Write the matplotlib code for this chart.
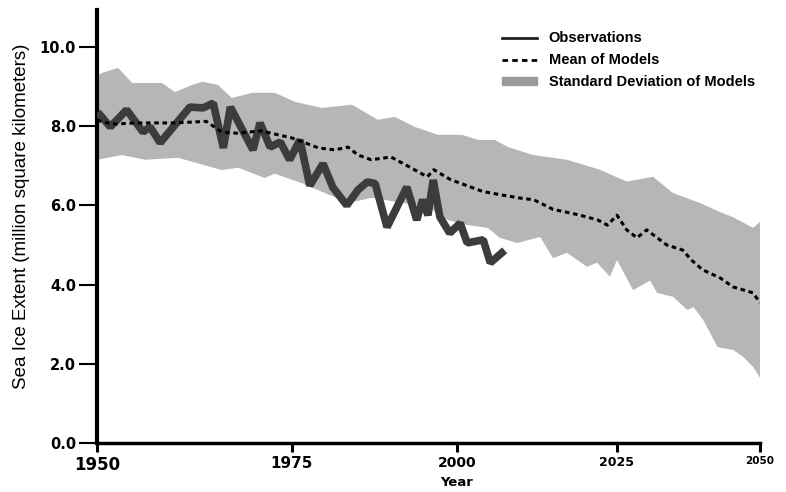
import numpy as np
import matplotlib.pyplot as plt
from matplotlib.lines import Line2D
from matplotlib.patches import Patch

obs_years = [1950.4, 1951.7, 1953.8, 1955.9, 1956.8, 1958.1, 1961.9, 1963.6, 1964.9,
             1966.2, 1967.1, 1970.0, 1970.9, 1972.2, 1973.5, 1974.7, 1976.2, 1977.7,
             1979.7, 1981.2, 1983.3, 1985.0, 1986.4, 1987.6, 1989.4, 1992.4, 1993.9,
             1994.8, 1995.6, 1996.4, 1997.4, 1998.9, 2000.5, 2001.6, 2004.1, 2005.2, 2007.0]
obs_vals = [8.28, 7.98, 8.41, 7.85, 7.98, 7.58, 8.48, 8.46, 8.58,
            7.45, 8.48, 7.40, 8.08, 7.47, 7.60, 7.15, 7.65, 6.50,
            7.05, 6.45, 6.00, 6.39, 6.59, 6.55, 5.45, 6.46, 5.63,
            6.14, 5.75, 6.64, 5.71, 5.30, 5.55, 5.05, 5.13, 4.55, 4.80]

# mean of models
mean_years = [1950, 1952, 1955, 1960, 1964, 1966, 1968, 1971, 1975, 1979, 1981.5, 1983.5,
              1985, 1987, 1990, 1993, 1995.5, 1996.5, 1999, 2001.5, 2004, 2007, 2010,
              2012, 2015, 2019, 2022, 2023.5, 2025, 2026.7, 2028.5, 2030.2, 2033.7,
              2036.5, 2038, 2040, 2043, 2045.3, 2048.8, 2050]
mean_vals = [8.15, 8.05, 8.08, 8.08, 8.12, 7.85, 7.82, 7.88, 7.70, 7.45, 7.40, 7.47,
             7.27, 7.15, 7.22, 6.95, 6.72, 6.90, 6.65, 6.50, 6.35, 6.26, 6.18,
             6.14, 5.90, 5.76, 5.63, 5.50, 5.75, 5.38, 5.18, 5.38, 5.00,
             4.87, 4.62, 4.37, 4.17, 3.94, 3.79, 3.54]

# standard deviation envelope of models
up_years = [1950, 1950.6, 1952.7, 1954.5, 1958.3, 1960, 1962.2, 1963.5, 1965.5, 1967.3,
            1969.9, 1972.8, 1975.5, 1979.5, 1984.1, 1988, 1990.6, 1993.6, 1997.1,
            2000.8, 2003.3, 2005.9, 2008, 2011.9, 2017.2, 2022.3, 2026.7, 2031.3,
            2034.8, 2039.5, 2043.5, 2045.3, 2048.8, 2050]
up_vals = [9.25, 9.34, 9.47, 9.09, 9.09, 8.86, 9.04, 9.12, 9.04, 8.71,
           8.84, 8.84, 8.61, 8.46, 8.54, 8.16, 8.23, 7.98, 7.78,
           7.78, 7.65, 7.65, 7.47, 7.27, 7.15, 6.90, 6.60, 6.72,
           6.31, 6.06, 5.80, 5.70, 5.43, 5.58]
lo_years = [1950, 1953.2, 1956.2, 1960.4, 1966, 1968.1, 1971.5, 1972.8, 1976.5, 1983.5,
            1987.1, 1995.6, 1998.6, 2001.7, 2004.8, 2006.7, 2009.4, 2013, 2015, 2017.2,
            2020.3, 2021.9, 2023.9, 2025, 2027.8, 2030.8, 2032, 2034.8, 2037.3, 2038.4,
            2040.1, 2042.6, 2045.3, 2047.1, 2048.8, 2050]
lo_vals = [7.15, 7.27, 7.15, 7.20, 6.89, 6.95, 6.69, 6.80, 6.56, 6.06,
           6.19, 5.96, 5.63, 5.50, 5.43, 5.18, 5.05, 5.20, 4.67, 4.80,
           4.45, 4.55, 4.20, 4.62, 3.86, 4.10, 3.79, 3.69, 3.36, 3.43,
           3.10, 2.42, 2.35, 2.17, 1.92, 1.65]

tick_years = [1950, 1975, 2000, 2025, 2050]
tick_sizes = [12, 11, 10, 9, 7.5]

# the original is drawn in perspective, so the year axis is compressed to the right
YR_REF = [1950, 1975, 2000, 2025, 2050]
PX_REF = [0, 195, 360, 520, 663]

def fwd(x):
    return np.interp(x, YR_REF, PX_REF, left=-1e3, right=1e3)

def inv(p):
    return np.interp(p, PX_REF, YR_REF)

fig = plt.figure(figsize=(7.86, 4.92), dpi=100)
ax = fig.add_axes([0.1234, 0.0996, 0.8435, 0.880])
ax.set_xscale("function", functions=(fwd, inv))

band_x = np.concatenate([up_years, lo_years[::-1]])
band_y = np.concatenate([up_vals, lo_vals[::-1]])
ax.fill(band_x, band_y, color="#b6b6b6", lw=0, zorder=1)

ax.plot(obs_years, obs_vals, color="#3c3c3c", lw=5.5, solid_joinstyle="bevel", zorder=3)
ax.plot(mean_years, mean_vals, color="black", lw=2.2, ls=(0, (1.5, 1.2)), zorder=4)

ax.set_xlim(1950, 2050)
ax.set_ylim(0, 10.93)
ax.set_xticks(tick_years)
ax.set_xticklabels([str(y) for y in tick_years])
for lab, fs in zip(ax.get_xticklabels(), tick_sizes):
    lab.set_fontsize(fs)
    lab.set_fontweight("bold")
ax.set_yticks(np.arange(0, 10.1, 2.0))
ax.set_yticklabels([f"{v:.1f}" for v in np.arange(0, 10.1, 2.0)],
                   fontsize=10.5, fontweight="bold")
ax.tick_params(axis="x", length=6.5, width=2.2, pad=3)
ax.tick_params(axis="y", length=13, width=1.5, pad=2)

for s in ["top", "right"]:
    ax.spines[s].set_visible(False)
ax.spines["left"].set_linewidth(3)
ax.spines["bottom"].set_linewidth(2.5)

fig.text(0.027, 0.56, "Sea Ice Extent (million square kilometers)", rotation=90,
         ha="center", va="center", fontsize=13.5,
         family=["Liberation Sans Narrow", "Liberation Sans", "DejaVu Sans"])
fig.text(457 / 786, 1 - 482 / 492, "Year", ha="center", va="center",
         fontsize=9.5, fontweight="bold")

handles = [Line2D([0], [0], color="#222222", lw=2),
           Line2D([0], [0], color="black", lw=2, ls=(0, (2, 1.5))),
           Patch(color="#9a9a9a")]
labels = ["Observations", "Mean of Models", "Standard Deviation of Models"]
leg = fig.legend(handles, labels, loc="upper left", bbox_to_anchor=(0.622, 0.963),
                 frameon=False, handlelength=2.4, handleheight=0.45, labelspacing=0.55,
                 prop={"family": "Liberation Sans", "weight": "bold", "size": 10.5})

fig.savefig("out.png", dpi=100, facecolor="white")
